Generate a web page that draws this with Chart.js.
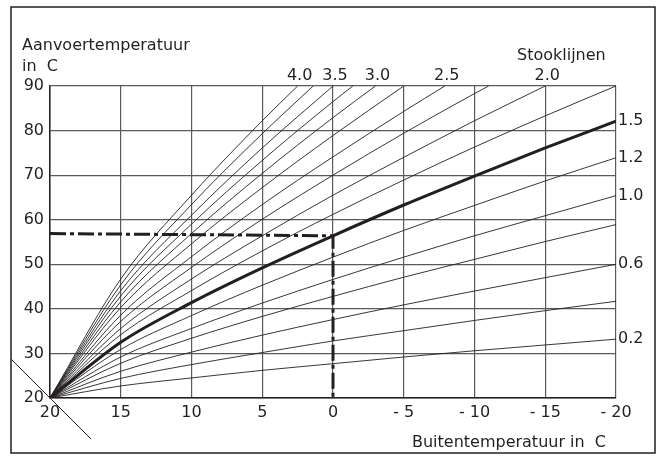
<!DOCTYPE html>
<html>
<head>
<meta charset="utf-8">
<script src="https://cdn.jsdelivr.net/npm/chart.js@4.4.1/dist/chart.umd.min.js"></script>
<style>
    html, body { margin: 0; padding: 0; background: #fff; }
    canvas { display: block; }
</style>
</head>
<body>
<canvas id="chart" width="662" height="456"></canvas>
<script>
// Buitentemperatuur (x) en aanvoertemperatuur (y) per stooklijn
const outdoorTemps = [20, 15, 10, 5, 0, -5, -10, -15, -20];
const xTickLabels = ['20', '15', '10', '5', '0', '- 5', '- 10', '- 15', '- 20'];
const yTickLabels = ['20', '30', '40', '50', '60', '70', '80', '90'];

const curveNames = ['0.2', '0.4', '0.6', '0.8', '1.0', '1.2', '1.5', '1.8', '2.0',
                    '2.2', '2.5', '2.7', '3.0', '3.2', '3.5', '3.7', '4.0'];

const curve02 = [20, 22.7, 24.5, 26.2, 27.7, 29.2, 30.6, 31.9, 33.2];
const curve04 = [20, 24.4, 27.5, 30.2, 32.8, 35.1, 37.4, 39.6, 41.7];
const curve06 = [20, 26.0, 30.3, 34.1, 37.6, 40.9, 44.0, 47.0, 50.0];
const curve08 = [20, 27.8, 33.4, 38.3, 42.8, 47.1, 51.1, 55.1, 58.9];
const curve10 = [20, 29.2, 35.6, 41.3, 46.6, 51.6, 56.4, 60.9, 65.4];
const curve12 = [20, 30.9, 38.5, 45.3, 51.6, 57.6, 63.2, 68.7, 73.9];
const curve15 = [20, 32.5, 41.4, 49.2, 56.4, 63.3, 69.8, 76.1, 82.1];
const curve18 = [20, 34.2, 44.1, 53.0, 61.2, 68.9, 76.3, 83.3, 90];
const curve20 = [20, 35.6, 46.7, 56.4, 65.5, 74.0, 82.2, 90];
const curve22 = [20, 37.2, 49.3, 60.1, 70.0, 79.4, 88.3];
const curve25 = [20, 38.6, 51.7, 63.4, 74.1, 84.3];
const curve27 = [20, 40.3, 54.6, 67.2, 78.9, 90];
const curve30 = [20, 41.6, 56.9, 70.4, 82.9];
const curve32 = [20, 42.9, 59.0, 73.3, 86.5];
const curve35 = [20, 44.1, 61.0, 76.1, 90];
const curve37 = [20, 45.4, 63.4, 79.3];
const curve40 = [20, 46.7, 65.5, 82.2];

const curves = [curve02, curve04, curve06, curve08, curve10, curve12, curve15, curve18, curve20,
                curve22, curve25, curve27, curve30, curve32, curve35, curve37, curve40];

// buitentemperatuur waar de lijn de 90 graden bereikt (null = geen)
const topExit = [null, null, null, null, null, null, null, null, null,
                 -11.0, -7.9, null, -3.0, -1.4, null, 1.4, 2.5];

// voorbeeld: stooklijn 1.5 bij 0 graden buiten
const exampleOutdoor = [20, 0, 0];
const exampleFlow = [56.9, 56.4, 20];

const topLabels = ['4.0', '3.5', '3.0', '2.5', '2.0'];
const rightLabels = ['1.5', '1.2', '1.0', '0.6', '0.2'];

const FONT = '"DejaVu Sans", sans-serif';
const INK = '#231f20';

function buildCurve(values, exit) {
    const pts = values.map((v, i) => ({ x: outdoorTemps[i], y: v }));
    if (exit !== null) pts.push({ x: exit, y: 90 });
    return pts;
}

const datasets = curves.map((values, i) => ({
    label: curveNames[i],
    data: buildCurve(values, topExit[i]),
    borderColor: INK,
    borderWidth: curveNames[i] === '1.5' ? 3 : 0.9,
    cubicInterpolationMode: 'monotone',
    pointRadius: 0,
    order: curveNames[i] === '1.5' ? 1 : 2
}));

datasets.push({
    label: 'voorbeeld',
    data: exampleOutdoor.map((x, i) => ({ x: x, y: exampleFlow[i] })),
    borderColor: INK,
    borderWidth: 3,
    borderDash: [16, 4, 4, 4],
    tension: 0,
    pointRadius: 0,
    order: 0
});

const decorations = {
    id: 'decorations',
    afterDraw(chart) {
        const ctx = chart.ctx;
        const xs = chart.scales.x;
        const ys = chart.scales.y;
        ctx.save();

        // kader
        ctx.strokeStyle = INK;
        ctx.lineWidth = 1.5;
        ctx.strokeRect(11, 7, 644, 446);

        // diagonaal door de oorsprong
        const ox = xs.getPixelForValue(20);
        const oy = ys.getPixelForValue(20);
        ctx.lineWidth = 1;
        ctx.beginPath();
        ctx.moveTo(ox - 39, oy - 39);
        ctx.lineTo(ox + 41, oy + 41);
        ctx.stroke();

        ctx.fillStyle = INK;
        ctx.font = '16px ' + FONT;
        ctx.textBaseline = 'alphabetic';
        ctx.textAlign = 'left';
        ctx.fillText('Aanvoertemperatuur', 22, 50);
        ctx.fillText('in  C', 22, 71);
        ctx.fillText('Stooklijnen', 517, 60);
        ctx.textAlign = 'right';
        ctx.fillText('Buitentemperatuur in  C', 606, 447);

        // labels van de stooklijnen
        ctx.textBaseline = 'middle';
        ctx.textAlign = 'center';
        topLabels.forEach(name => {
            const idx = curveNames.indexOf(name);
            const pts = chart.getDatasetMeta(idx).data;
            const p = pts[pts.length - 1];
            ctx.fillText(name, p.x + 2, ys.top - 10);
        });
        ctx.textAlign = 'left';
        rightLabels.forEach(name => {
            const idx = curveNames.indexOf(name);
            const pts = chart.getDatasetMeta(idx).data;
            const p = pts[pts.length - 1];
            ctx.fillText(name, xs.right + 2, p.y);
        });
        ctx.restore();
    }
};

new Chart(document.getElementById('chart'), {
    type: 'line',
    data: { datasets: datasets },
    options: {
        responsive: false,
        animation: false,
        events: [],
        layout: { padding: { top: 86, right: 46, left: 0, bottom: 0 } },
        plugins: { legend: { display: false }, tooltip: { enabled: false } },
        scales: {
            x: {
                type: 'linear',
                reverse: true,
                min: -20,
                max: 20,
                afterFit: s => { s.height = 58; },
                afterBuildTicks: s => {
                    s.ticks = outdoorTemps.map(v => ({ value: v }));
                },
                ticks: {
                    padding: 5,
                    color: INK,
                    font: { family: FONT, size: 16 },
                    callback: (v, i) => xTickLabels[i]
                },
                grid: { color: '#5a5a5a', lineWidth: 1.2, drawTicks: false },
                border: { color: INK, width: 1.5 }
            },
            y: {
                min: 20,
                max: 90,
                afterFit: s => { s.width = 50; },
                ticks: {
                    stepSize: 10,
                    padding: 6,
                    color: INK,
                    font: { family: FONT, size: 16 },
                    callback: (v, i) => yTickLabels[i]
                },
                grid: { color: '#5a5a5a', lineWidth: 1.2, drawTicks: false },
                border: { color: INK, width: 1.5 }
            }
        }
    },
    plugins: [decorations]
});
</script>
</body>
</html>
